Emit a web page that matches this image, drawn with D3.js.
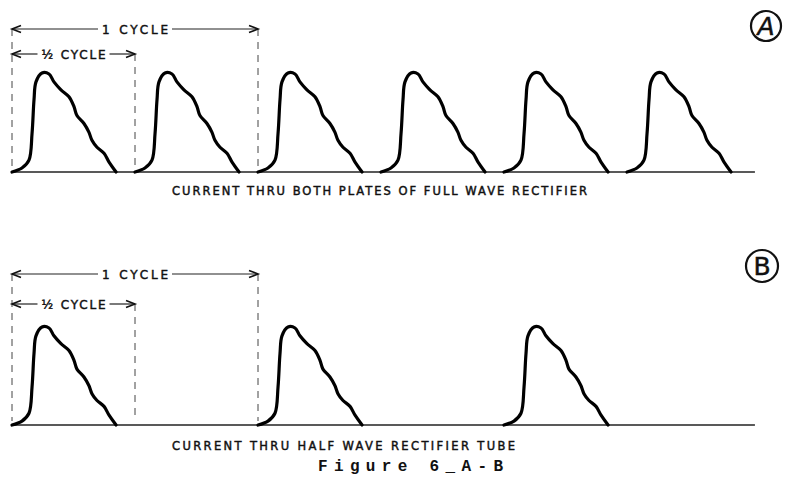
<!DOCTYPE html>
<html><head><meta charset="utf-8">
<script src="https://cdn.jsdelivr.net/npm/d3@7"></script>
<style>html,body{margin:0;padding:0;background:#fff;}svg{display:block;}</style>
</head><body>
<svg id="c" width="786" height="482"></svg>
<script>
// ---- data ----
// one current pulse, sampled over a half cycle: phase (fraction of half cycle) and relative current
const pulsePhase = [0, 0.081, 0.138, 0.163, 0.179, 0.195, 0.244, 0.301, 0.341, 0.398, 0.463, 0.504, 0.528, 0.585, 0.626, 0.650, 0.691, 0.748, 0.789, 0.846];
const pulseAmp   = [0, 0.04, 0.12, 0.39, 0.73, 0.91, 1.00, 0.99, 0.91, 0.83, 0.76, 0.66, 0.57, 0.49, 0.40, 0.32, 0.25, 0.19, 0.10, 0];
const pulseStartsA = [0, 1, 2, 3, 4, 5];   // half-cycles where pulses begin (full wave)
const pulseStartsB = [0, 2, 4];            // half-cycles where pulses begin (half wave)
const cycleMarks = [0, 1, 2];              // dashed marker positions (half-cycles)
const panelLabels = ["A", "B"];
const captions = ["CURRENT THRU BOTH PLATES OF FULL WAVE RECTIFIER", "CURRENT THRU HALF WAVE RECTIFIER TUBE"];
const cycleLabels = ["1 CYCLE", "½ CYCLE"];
const figureTitle = "Figure 6_A-B";

const svg = d3.select("#c");
const x = d3.scaleLinear().domain([0, 6]).range([12, 750]);
const panels = [
  {y: d3.scaleLinear().domain([0, 1]).range([172, 73]), starts: pulseStartsA, arrowY: [29, 54], textY: [34, 59],
   caption: captions[0], capX: 172, capW: 415, capY: 195, label: panelLabels[0], lx: 766, ly: 26, lr: 15},
  {y: d3.scaleLinear().domain([0, 1]).range([425, 327]), starts: pulseStartsB, arrowY: [274, 304], textY: [279, 309],
   caption: captions[1], capX: 172, capW: 343, capY: 450, label: panelLabels[1], lx: 762, ly: 266, lr: 16}
];

const pts = pulsePhase.map((p, i) => ({p, a: pulseAmp[i]}));

function arrowHead(g, xTip, y, dir) {
  g.append("path")
    .attr("d", `M${xTip - dir * 9},${y - 3.5} L${xTip},${y} L${xTip - dir * 9},${y + 3.5}`)
    .attr("fill", "none").attr("stroke", "#111").attr("stroke-width", 1.6);
}

panels.forEach(P => {
  const g = svg.append("g");
  const base = P.y(0);
  g.append("line").attr("x1", x(0)).attr("x2", x(6.04)).attr("y1", base).attr("y2", base)
    .attr("stroke", "#222").attr("stroke-width", 1.6);
  cycleMarks.forEach((m, i) => {
    const top = (i === 1) ? P.arrowY[1] : P.arrowY[0];
    g.append("line").attr("x1", x(m)).attr("x2", x(m)).attr("y1", top).attr("y2", base - 4)
      .attr("stroke", "#444").attr("stroke-width", 1).attr("stroke-dasharray", "7,6");
  });
  const spans = [[x(0), x(2)], [x(0), x(1)]];
  spans.forEach((s, i) => {
    const ay = P.arrowY[i];
    const cx = (s[0] + s[1]) / 2;
    const tw = i === 0 ? 66 : 64;
    g.append("text").attr("x", cx).attr("y", P.textY[i]).attr("text-anchor", "middle")
      .attr("font-family", "DejaVu Sans").attr("font-size", 12)
      .attr("stroke", "#111").attr("stroke-width", 0.45)
      .attr("textLength", tw).attr("lengthAdjust", "spacing").attr("fill", "#111").text(cycleLabels[i]);
    g.append("line").attr("x1", s[0]).attr("x2", cx - tw / 2 - 4).attr("y1", ay).attr("y2", ay).attr("stroke", "#222").attr("stroke-width", 1.2);
    g.append("line").attr("x1", cx + tw / 2 + 4).attr("x2", s[1]).attr("y1", ay).attr("y2", ay).attr("stroke", "#222").attr("stroke-width", 1.2);
    arrowHead(g, s[0], ay, -1);
    arrowHead(g, s[1], ay, 1);
  });
  const line = d3.line().x(d => d.x).y(d => P.y(d.a)).curve(d3.curveCatmullRom.alpha(0.5));
  P.starts.forEach(s0 => {
    g.append("path").datum(pts.map(d => ({x: x(s0 + d.p), a: d.a})))
      .attr("d", line).attr("fill", "none").attr("stroke", "#000").attr("stroke-width", 3.2)
      .attr("stroke-linejoin", "round").attr("stroke-linecap", "round");
  });
  g.append("text").attr("x", P.capX).attr("y", P.capY)
    .attr("font-family", "DejaVu Sans").attr("font-size", 11.5)
    .attr("stroke", "#111").attr("stroke-width", 0.45)
    .attr("textLength", P.capW).attr("lengthAdjust", "spacing").attr("fill", "#111").text(P.caption);
  g.append("circle").attr("cx", P.lx).attr("cy", P.ly).attr("r", P.lr)
    .attr("fill", "none").attr("stroke", "#111").attr("stroke-width", 2.2);
  g.append("text").attr("x", P.lx).attr("y", P.ly + 9).attr("text-anchor", "middle")
    .attr("font-family", "DejaVu Sans").attr("font-style", P.label === "A" ? "italic" : "normal")
    .attr("stroke", "#111").attr("stroke-width", 0.5)
    .attr("font-size", 25).attr("fill", "#111").text(P.label);
});

svg.append("text").attr("x", 318).attr("y", 471)
  .attr("font-family", "Liberation Mono").attr("font-weight", "bold").attr("font-size", 16)
  .attr("textLength", 185).attr("lengthAdjust", "spacing").attr("fill", "#111").text(figureTitle);
</script>
</body></html>
